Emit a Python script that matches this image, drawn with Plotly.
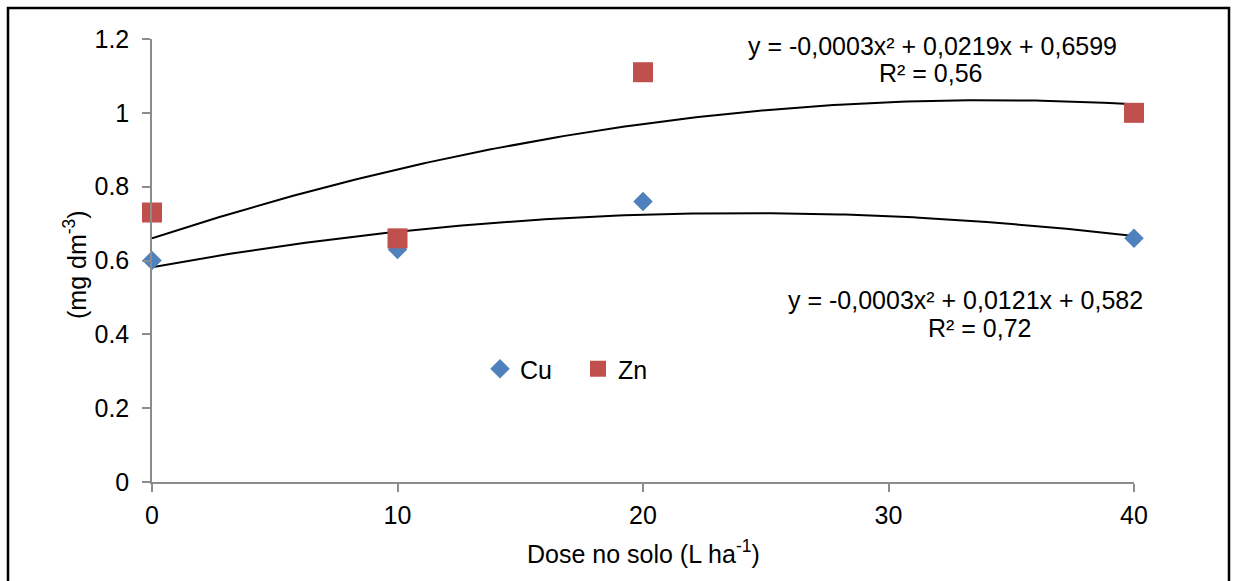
import numpy as np
import plotly.graph_objects as go

# ---- data ----
dose = [0, 10, 20, 40]
cu_values = [0.60, 0.63, 0.76, 0.66]
zn_values = [0.73, 0.66, 1.11, 1.00]
x_ticks = [0, 10, 20, 30, 40]
y_ticks = [0, 0.2, 0.4, 0.6, 0.8, 1.0, 1.2]
y_tick_text = ["0", "0.2", "0.4", "0.6", "0.8", "1", "1.2"]
eq_zn = ["y = -0,0003x² + 0,0219x + 0,6599", "R² = 0,56"]
eq_cu = ["y = -0,0003x² + 0,0121x + 0,582", "R² = 0,72"]

W, H = 1234, 581
L, R, T, B = 152, 100, 39, 99
PW, PH = W - L - R, H - T - B

def px(xp):
    return (xp - L) / PW

def py(yp):
    return (H - B - yp) / PH

FONT = "Liberation Sans, Arial, sans-serif"
FS = 25
CU_COLOR = "#4F81BD"
ZN_COLOR = "#C0504D"

xs = np.linspace(0, 40, 161)
cu_fit = np.polyval(np.polyfit(dose, cu_values, 2), xs)
zn_fit = np.polyval(np.polyfit(dose, zn_values, 2), xs)

fig = go.Figure()
fig.add_trace(go.Scatter(x=xs, y=zn_fit, mode="lines", line=dict(color="black", width=2),
                         showlegend=False, hoverinfo="skip", cliponaxis=False))
fig.add_trace(go.Scatter(x=xs, y=cu_fit, mode="lines", line=dict(color="black", width=2),
                         showlegend=False, hoverinfo="skip", cliponaxis=False))
fig.add_trace(go.Scatter(x=dose, y=cu_values, mode="markers", name="Cu", cliponaxis=False,
                         marker=dict(symbol="diamond", size=15, color=CU_COLOR)))
fig.add_trace(go.Scatter(x=dose, y=zn_values, mode="markers", name="Zn", cliponaxis=False,
                         marker=dict(symbol="square", size=20, color=ZN_COLOR)))

axis_common = dict(showgrid=False, zeroline=False, showline=True, linecolor="#8C8C8C",
                   linewidth=1.5, ticks="outside", ticklen=8, tickcolor="#8C8C8C",
                   tickwidth=1.5, tickfont=dict(family=FONT, size=FS, color="black"))

fig.update_xaxes(range=[0, 40], tickvals=x_ticks, ticktext=[str(v) for v in x_ticks],
                 ticklabelstandoff=2, **axis_common)
fig.update_yaxes(range=[0, 1.2], tickvals=y_ticks, ticktext=y_tick_text,
                 ticklabelstandoff=8, **axis_common)

ann = []
ann.append(dict(x=px(932), y=py(46), text=eq_zn[0]))
ann.append(dict(x=px(931), y=py(73), text=eq_zn[1]))
ann.append(dict(x=px(965), y=py(300), text=eq_cu[0]))
ann.append(dict(x=px(980), y=py(328), text=eq_cu[1]))
ann.append(dict(x=px(643), y=py(552), text="Dose no solo (L ha<sup>-1</sup>)"))
ann.append(dict(x=px(75), y=py(265), text="(mg dm<sup>-3</sup>)", textangle=-90))
annotations = []
for a in ann:
    d = dict(xref="paper", yref="paper", showarrow=False, xanchor="center", yanchor="middle",
             font=dict(family=FONT, size=FS, color="black"))
    d.update(a)
    annotations.append(d)

fig.update_layout(
    width=W, height=H,
    margin=dict(l=L, r=R, t=T, b=B),
    paper_bgcolor="white", plot_bgcolor="white",
    font=dict(family=FONT, size=FS, color="black"),
    annotations=annotations,
    legend=dict(orientation="h", x=px(480), y=py(369), xanchor="left", yanchor="middle",
                bgcolor="rgba(0,0,0,0)", font=dict(family=FONT, size=FS, color="black"),
                itemwidth=30, entrywidth=53, entrywidthmode="pixels", tracegroupgap=0),
    shapes=[dict(type="rect", xref="paper", yref="paper",
                 x0=px(8), x1=px(1229), y0=py(8), y1=py(600),
                 line=dict(color="black", width=2.5), fillcolor="rgba(0,0,0,0)", layer="above")],
)

fig.write_html("out.html")
